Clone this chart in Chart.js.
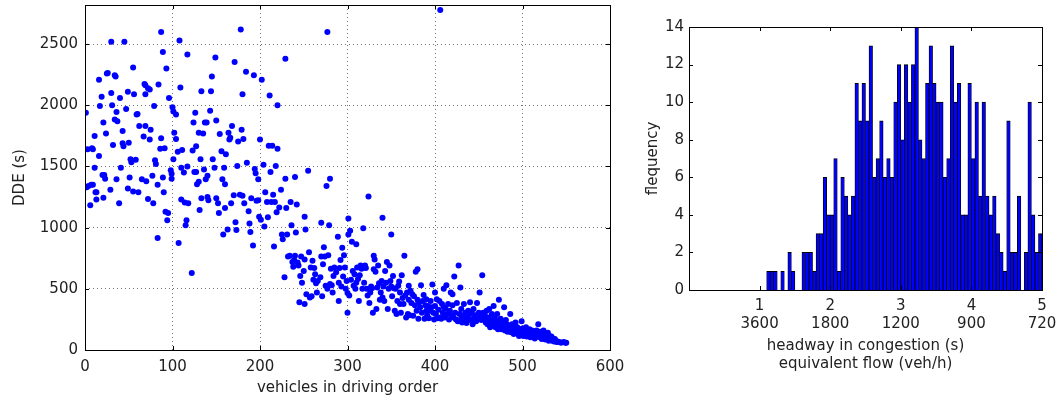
<!DOCTYPE html>
<html lang="en">

<head>
    <meta charset="UTF-8" />
    <title>DDE and headway</title>
    <script src="https://cdn.jsdelivr.net/npm/chart.js"></script>
    <style>
        body { margin: 0; background: #fff; }
        #wrap { position: relative; width: 1062px; height: 402px; }
        canvas { position: absolute; top: 0; }
        #ddeChart { left: 0; }
        #headwayChart { left: 640px; }
    </style>
</head>

<body>
    <div id="wrap">
        <canvas id="ddeChart" width="625" height="402"></canvas>
        <canvas id="headwayChart" width="422" height="402"></canvas>
    </div>

    <script>
        // left panel: [vehicle in driving order, DDE (s)]
        const ddePoints = [
            [1,1940],[3,1640],[8,1650],[9,1640],[2,1330],[4,1340],[7,1350],[9,1350],[6,1183],[11,1750],
            [11,1490],[12,1290],[13,1290],[13,1230],[16,1585],[16,2210],[17,1995],[19,2070],[20,1430],[21,1860],
            [21,1245],[22,1430],[23,1400],[24,1770],[25,2260],[26,2265],[29,1310],[30,2520],[30,2100],[31,2000],
            [32,1675],[34,2245],[35,2235],[34,1885],[36,1395],[36,1945],[37,1870],[39,1200],[40,2060],[41,1490],
            [43,1790],[43,1690],[44,1665],[45,2520],[47,1970],[49,1320],[49,2110],[50,1695],[51,1410],[52,1560],
            [53,1535],[55,1295],[55,2310],[56,2090],[58,1555],[59,1925],[60,1930],[61,1290],[62,1830],[65,1395],
            [67,1745],[68,2175],[69,2165],[69,1830],[69,2090],[70,1380],[72,2140],[74,2130],[72,1235],[74,1720],
            [75,1800],[77,1425],[78,1200],[79,1995],[80,1550],[81,1520],[83,1350],[84,2170],[83,915],[86,1645],
            [87,2600],[87,1730],[89,1410],[89,2435],[90,1290],[91,1650],[92,1130],[93,2300],[94,1060],[95,1120],
            [96,2060],[98,1470],[99,1440],[99,1400],[100,1985],[101,1950],[101,1560],[102,1775],[104,1925],[104,1725],
            [106,1620],[107,875],[108,2530],[109,2145],[110,1230],[110,1490],[111,1635],[113,1450],[114,1205],[115,1020],
            [116,1060],[117,2415],[117,1500],[118,1200],[122,630],[123,1630],[124,1860],[125,1455],[126,1940],[127,1455],
            [127,1665],[128,1355],[130,1775],[130,1375],[131,1145],[132,1560],[133,2115],[133,1240],[135,1770],[136,1475],
            [137,1860],[139,1860],[138,1395],[140,1425],[140,1250],[141,1225],[143,1955],[144,2115],[145,2235],[146,1560],
            [148,1490],[149,2390],[150,1240],[150,1875],[152,1200],[153,1120],[154,1765],[156,1625],[157,1395],[158,945],
            [159,1490],[160,1160],[160,1355],[161,1600],[163,985],[164,1775],[165,1720],[166,1735],[167,1200],[168,1830],
            [170,1265],[171,2355],[172,1045],[173,980],[174,1505],[175,1705],[177,1270],[178,2620],[179,1800],[180,2090],
            [180,1260],[181,1725],[182,1200],[184,2275],[185,1530],[187,1135],[188,1035],[189,965],[190,1240],[192,855],
            [193,2245],[194,1480],[195,1445],[196,1220],[198,1225],[198,1395],[199,1090],[200,1720],[201,1065],[202,2210],
            [204,1515],[205,1010],[206,1290],[208,1210],[209,1085],[210,1670],[211,2080],[212,1455],[213,1210],[214,1670],
            [215,1270],[216,845],[217,1210],[218,1505],[219,1125],[220,2000],[220,1645],[222,1165],[224,1310],[225,945],
            [226,905],[228,595],[229,1400],[229,2380],[230,1160],[231,945],[232,765],[234,770],[235,1210],[236,1020],
            [237,720],[238,680],[239,735],[240,1415],[240,770],[241,960],[242,1190],
            [243,715],[244,690],[245,390],[246,605],[247,765],[248,550],[250,645],[251,740],[251,1090],[251,375],
            [252,985],[253,455],[255,1465],[256,800],[257,430],[258,675],[259,440],[260,730],[261,575],[262,670],
            [263,620],[264,545],[265,470],[266,565],[269,595],[270,1040],[270,765],[271,440],[272,700],[273,840],
            [274,765],[275,525],[276,1340],[277,2600],[277,500],[278,775],[279,1020],[280,540],[280,1400],[281,665],
            [282,530],[283,470],[284,605],[285,675],[287,635],[289,925],[290,550],[290,400],[291,670],[292,735],
            [293,520],[294,835],[295,600],[296,775],[297,675],[298,500],[299,565],[300,465],[300,305],[301,945],
            [301,1075],[302,445],[303,975],[304,575],[305,885],[306,645],[307,525],[308,620],[309,500],[310,550],
            [310,865],[311,675],[312,580],[313,400],[314,610],[315,690],[316,665],[317,500],[318,995],[319,550],
            [320,675],[320,690],[321,670],[322,500],[323,445],[324,1255],[325,385],[326,470],[327,520],[328,505],
            [329,305],[330,770],[330,660],[331,740],[332,640],[333,335],[334,510],[335,690],[336,545],[337,410],
            [338,470],[339,565],[340,1080],[340,430],[341,520],[342,400],[343,645],[344,550],[345,720],[346,335],
            [347,500],[348,690],[349,565],[350,520],[350,945],[351,440],[352,605],[353,505],[354,320],[355,500],
            [356,295],[357,400],[358,525],[359,560],[360,375],[360,470],[361,305],[362,610],[363,425],[364,375],
            [365,770],[366,445],[367,265],[368,470],[369,295],[370,525],[370,410],[371,285],[372,485],[373,385],
            [374,455],[375,280],[376,440],[377,365],[378,640],[379,320],[380,660],[380,410],[381,255],[382,390],
            [383,350],[384,530],[385,305],[386,400],[387,450],[388,255],[389,365],[390,320],[390,415],[391,285],
            [392,360],[393,260],[394,320],[395,400],[396,350],[397,535],[398,305],[399,250],[400,360],[400,470],
            [401,295],[402,415],[403,260],[404,330],[405,400],[406,2780],[406,265],[407,255],[408,375],[409,305],
            [410,350],[410,500],[411,265],[412,340],[413,530],[414,295],[415,375],[416,250],[417,320],[418,470],
            [419,280],[420,365],[420,455],[421,265],[422,600],[423,305],[424,250],[425,385],[426,235],[427,690],
            [428,295],[429,510],[430,260],[430,335],[431,225],[432,285],[433,375],[434,250],[435,305],[436,220],
            [437,280],[438,320],[439,245],[440,295],[440,390],[441,250],[442,305],[443,210],[444,335],[445,260],
            [446,285],[447,235],[448,385],[449,265],[450,305],[450,255],[451,470],[452,265],[453,245],[454,610],
            [455,305],[456,255],[457,285],[458,225],[459,320],[460,250],[460,210],[461,265],[462,335],[463,185],
            [464,245],[465,295],[466,210],[467,360],[468,260],[469,185],[470,245],[470,225],[471,295],[472,170],
            [473,410],[474,210],[475,255],[476,170],[477,235],[478,200],[479,350],[480,160],[481,245],[481,185],
            [482,210],[483,150],[484,200],[485,170],[486,295],[487,145],[488,210],[489,170],[490,130],[490,200],
            [491,160],[492,225],[493,140],[494,185],[495,160],[496,115],[497,170],[498,150],[499,235],[500,130],
            [500,175],[501,115],[502,160],[503,140],[504,185],[505,110],[506,150],[507,130],[508,170],[509,105],
            [510,145],[510,120],[511,160],[512,110],[513,140],[514,95],[515,130],[516,160],[517,110],[518,210],
            [519,130],[520,105],[520,150],[521,115],[522,90],[523,130],[524,160],[525,110],[526,85],[527,120],
            [528,95],[529,140],[530,105],[530,75],[531,115],[532,90],[533,110],[534,75],[535,95],[536,70],
            [537,90],[538,75],[539,65],[540,70],[542,65],[544,60],[547,65],[549,60],[550,60]
        ];
        const vehicleTicks = [0, 100, 200, 300, 400, 500, 600];
        const ddeTicks = [0, 500, 1000, 1500, 2000, 2500];

        // right panel: histogram of headway in congestion, bins of 0.05 s (left edges)
        const binLeft = [
            1.10, 1.15, 1.20, 1.25, 1.30, 1.35, 1.40, 1.45, 1.50, 1.55,
            1.60, 1.65, 1.70, 1.75, 1.80, 1.85, 1.90, 1.95, 2.00, 2.05,
            2.10, 2.15, 2.20, 2.25, 2.30, 2.35, 2.40, 2.45, 2.50, 2.55,
            2.60, 2.65, 2.70, 2.75, 2.80, 2.85, 2.90, 2.95, 3.00, 3.05,
            3.10, 3.15, 3.20, 3.25, 3.30, 3.35, 3.40, 3.45, 3.50, 3.55,
            3.60, 3.65, 3.70, 3.75, 3.80, 3.85, 3.90, 3.95, 4.00, 4.05,
            4.10, 4.15, 4.20, 4.25, 4.30, 4.35, 4.40, 4.45, 4.50, 4.55,
            4.60, 4.65, 4.70, 4.75, 4.80, 4.85, 4.90, 4.95
        ];
        const frequency = [
            1, 1, 1, 0, 1, 0, 2, 1, 0, 0,
            2, 2, 2, 1, 3, 3, 6, 4, 4, 7,
            1, 6, 5, 4, 5, 11, 9, 11, 9, 13,
            6, 7, 9, 6, 7, 6, 10, 12, 8, 12,
            10, 12, 14, 8, 7, 11, 13, 11, 10, 10,
            6, 7, 13, 10, 11, 4, 4, 11, 7, 10,
            5, 10, 5, 4, 5, 3, 2, 1, 9, 2,
            2, 5, 0, 2, 10, 4, 2, 3
        ];
        const binWidth = 0.05;
        const headwayTicks = [1, 2, 3, 4, 5];
        const flowTickLabels = ['3600', '1800', '1200', '900', '720'];
        const frequencyTicks = [0, 2, 4, 6, 8, 10, 12, 14];

        Chart.defaults.font.family = "'DejaVu Sans', sans-serif";
        Chart.defaults.font.size = 15;
        Chart.defaults.font.lineHeight = 1.2;
        Chart.defaults.color = '#222';
        Chart.defaults.animation = false;

        // matplotlib-like box: full frame and short inward ticks on all four sides
        const framePlugin = {
            id: 'frame',
            afterDatasetsDraw(chart) {
                const { ctx, chartArea: a } = chart;
                ctx.save();
                ctx.strokeStyle = '#000';
                ctx.lineWidth = 1;
                ctx.setLineDash([]);
                const tick = 4;
                ctx.beginPath();
                chart.scales.x.ticks.forEach(t => {
                    const px = Math.round(chart.scales.x.getPixelForValue(t.value)) + 0.5;
                    ctx.moveTo(px, a.bottom); ctx.lineTo(px, a.bottom - tick);
                    ctx.moveTo(px, a.top); ctx.lineTo(px, a.top + tick);
                });
                chart.scales.y.ticks.forEach(t => {
                    const py = Math.round(chart.scales.y.getPixelForValue(t.value)) + 0.5;
                    ctx.moveTo(a.left, py); ctx.lineTo(a.left + tick, py);
                    ctx.moveTo(a.right, py); ctx.lineTo(a.right - tick, py);
                });
                ctx.stroke();
                ctx.strokeRect(Math.round(a.left) + 0.5, Math.round(a.top) + 0.5,
                    Math.round(a.right - a.left), Math.round(a.bottom - a.top));
                ctx.restore();
            }
        };

        function fixSize(prop, size) {
            return scale => {
                scale[prop] = size;
                scale.paddingTop = 0; scale.paddingBottom = 0;
                scale.paddingLeft = 0; scale.paddingRight = 0;
            };
        }

        function useTicks(values) {
            return scale => { scale.ticks = values.map(v => ({ value: v })); };
        }

        const dottedGrid = { color: 'rgba(0, 0, 0, 0.55)', lineWidth: 1, drawTicks: false };

        // left: DDE vs vehicle order
        const ddeCtx = document.getElementById('ddeChart').getContext('2d');
        const ddeChart = new Chart(ddeCtx, {
            type: 'scatter',
            data: {
                datasets: [{
                    data: ddePoints.map(p => ({ x: p[0], y: p[1] })),
                    backgroundColor: '#0000ff',
                    borderColor: '#0000ff',
                    borderWidth: 0,
                    pointRadius: 3
                }]
            },
            plugins: [framePlugin],
            options: {
                responsive: false,
                layout: { padding: { top: 5, right: 15, left: 0, bottom: 0 } },
                plugins: { legend: { display: false }, tooltip: { enabled: false } },
                scales: {
                    x: {
                        type: 'linear', min: 0, max: 600,
                        afterBuildTicks: useTicks(vehicleTicks),
                        ticks: { padding: 8, callback: v => String(v) },
                        grid: dottedGrid,
                        border: { display: false, dash: [1, 3] },
                        title: { display: true, text: 'vehicles in driving order', padding: { top: 0, bottom: 5 } },
                        afterFit: fixSize('height', 52)
                    },
                    y: {
                        type: 'linear', min: 0, max: 2820,
                        afterBuildTicks: useTicks(ddeTicks),
                        ticks: { padding: 7, callback: v => String(v) },
                        grid: dottedGrid,
                        border: { display: false, dash: [1, 3] },
                        title: { display: true, text: 'DDE (s)', padding: { top: 11, bottom: 0 } },
                        afterFit: fixSize('width', 85)
                    }
                }
            }
        });

        // right: histogram of headway with equivalent flow as second tick line
        const headwayCtx = document.getElementById('headwayChart').getContext('2d');
        const headwayChart = new Chart(headwayCtx, {
            type: 'bar',
            data: {
                datasets: [{
                    data: binLeft.map((b, i) => ({ x: b + binWidth / 2, y: frequency[i] })),
                    backgroundColor: '#0000ff',
                    borderColor: '#000',
                    borderWidth: { top: 1, left: 0.8, right: 0.8, bottom: 0 },
                    barPercentage: 1,
                    categoryPercentage: 1
                }]
            },
            plugins: [framePlugin],
            options: {
                responsive: false,
                layout: { padding: { top: 27, right: 20, left: 0, bottom: 0 } },
                plugins: { legend: { display: false }, tooltip: { enabled: false } },
                scales: {
                    x: {
                        type: 'linear', min: 0, max: 5, offset: false,
                        afterBuildTicks: useTicks(headwayTicks),
                        ticks: {
                            padding: 7,
                            callback: (value, index) => [String(value), flowTickLabels[index]]
                        },
                        grid: { display: false, drawTicks: false },
                        border: { display: false },
                        title: {
                            display: true,
                            text: ['headway in congestion (s)', 'equivalent flow (veh/h)'],
                            padding: { top: 0, bottom: 29 }
                        },
                        afterFit: fixSize('height', 112)
                    },
                    y: {
                        type: 'linear', min: 0, max: 14,
                        afterBuildTicks: useTicks(frequencyTicks),
                        ticks: { padding: 5, callback: v => String(v) },
                        grid: { display: false, drawTicks: false },
                        border: { display: false },
                        title: { display: true, text: 'flequency', padding: { top: 4, bottom: 0 } },
                        afterFit: fixSize('width', 49)
                    }
                }
            }
        });
    </script>
</body>

</html>
